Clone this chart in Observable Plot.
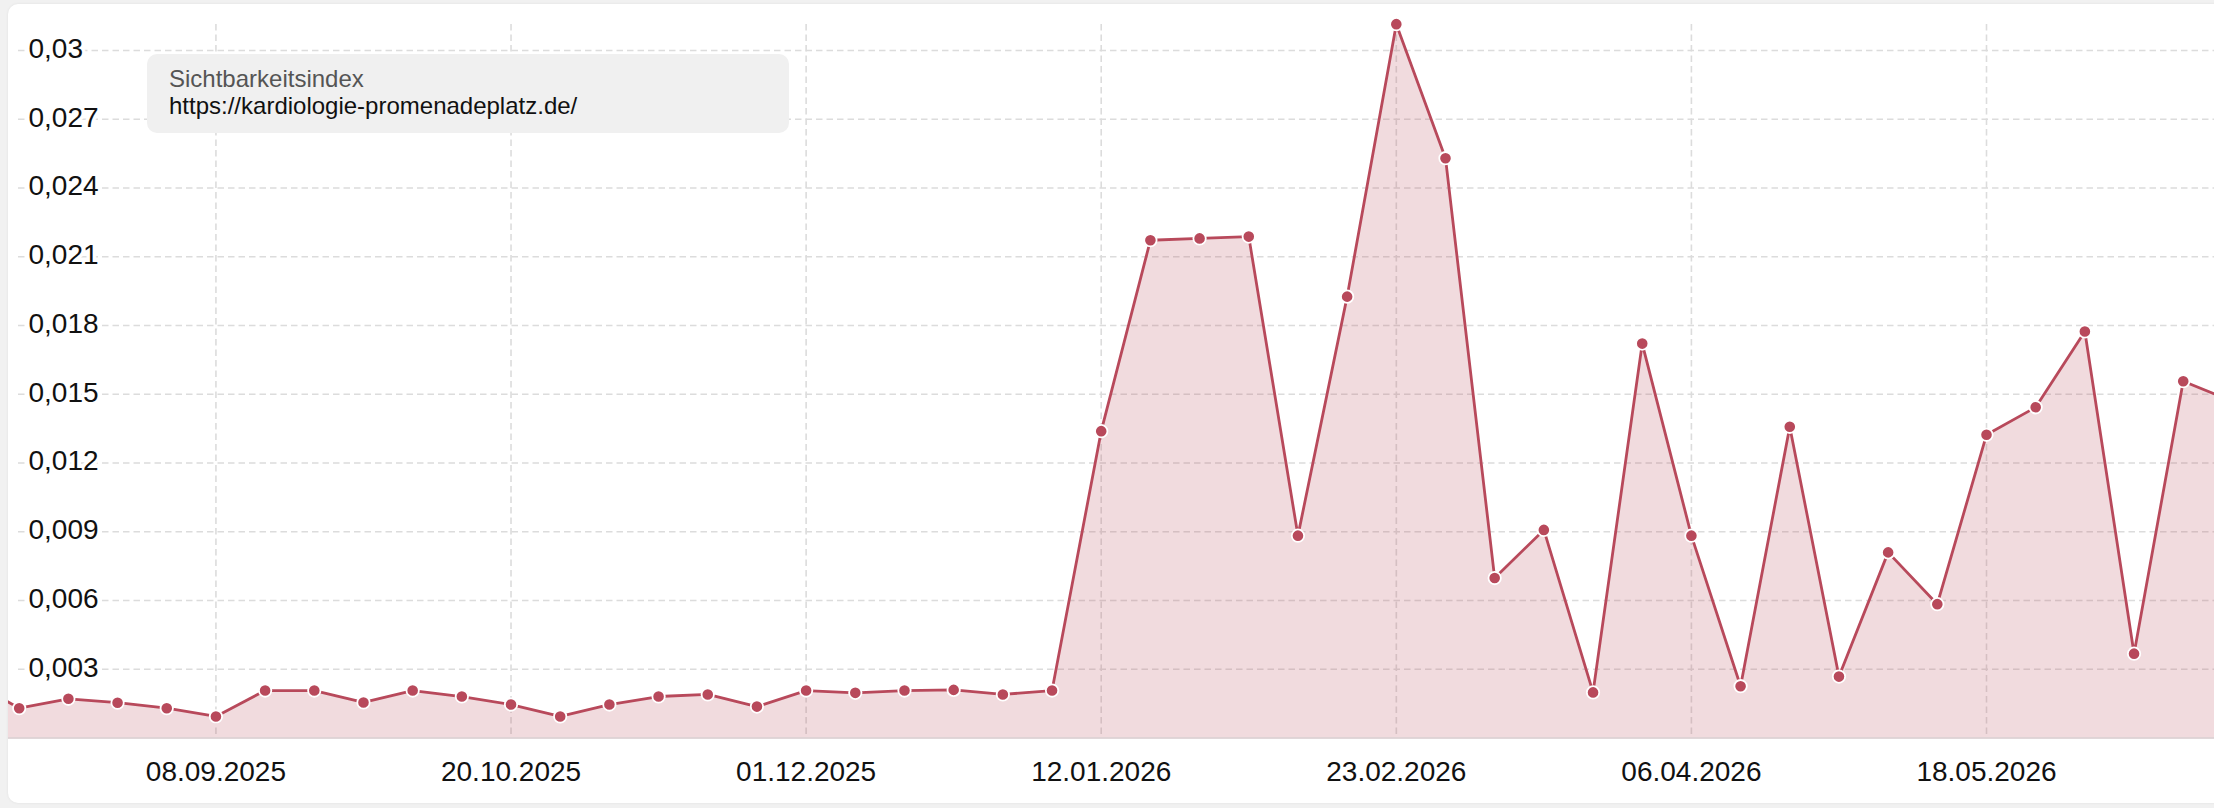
<!DOCTYPE html>
<html>
<head>
<meta charset="utf-8">
<script src="https://cdn.jsdelivr.net/npm/d3@7"></script>
<script src="https://cdn.jsdelivr.net/npm/@observablehq/plot@0.6"></script>
<style>
  html, body { margin: 0; padding: 0; background: #f1f1f1; overflow: hidden; width: 2214px; height: 808px; }
  #card { position: absolute; left: 8px; top: 4px; width: 2240px; height: 799px; background: #fff; border-radius: 10px; box-shadow: 0 0 3px rgba(0,0,0,0.07); overflow: hidden; }
  #chart { position: absolute; left: 0; top: 0; }
  #legend { position: absolute; left: 147px; top: 54px; width: 642px; height: 79px; background: #f0f0f0; border-radius: 10px; font-family: "Liberation Sans", Arial, Helvetica, sans-serif; font-size: 24px; line-height: 24px; }
  #legend .t1 { position: absolute; left: 22px; top: 12.5px; color: #555; white-space: nowrap; }
  #legend .t2 { position: absolute; left: 22px; top: 40px; color: #111; white-space: nowrap; }
</style>
</head>
<body>
<div id="card"><div id="chart"></div></div>
<div id="legend"><div class="t1"></div><div class="t2"></div></div>
<script>
// ---- data ----
const seriesName = "Sichtbarkeitsindex";
const seriesUrl = "https://kardiologie-promenadeplatz.de/";

const weeks = [
  "2025-08-04","2025-08-11","2025-08-18","2025-08-25","2025-09-01","2025-09-08","2025-09-15","2025-09-22","2025-09-29",
  "2025-10-06","2025-10-13","2025-10-20","2025-10-27","2025-11-03","2025-11-10","2025-11-17","2025-11-24",
  "2025-12-01","2025-12-08","2025-12-15","2025-12-22","2025-12-29","2026-01-05","2026-01-12","2026-01-19","2026-01-26",
  "2026-02-02","2026-02-09","2026-02-16","2026-02-23","2026-03-02","2026-03-09","2026-03-16","2026-03-23","2026-03-30",
  "2026-04-06","2026-04-13","2026-04-20","2026-04-27","2026-05-04","2026-05-11","2026-05-18","2026-05-25",
  "2026-06-01","2026-06-08","2026-06-15","2026-06-22"
];
const values = [
  0.0025, 0.00130, 0.00171, 0.00154, 0.00130, 0.00094, 0.00207, 0.00207, 0.00155,
  0.00207, 0.00181, 0.00146, 0.00094, 0.00146, 0.00181, 0.00190, 0.00137,
  0.00207, 0.00197, 0.00207, 0.00210, 0.00190, 0.00207, 0.01339, 0.02172, 0.02180,
  0.02188, 0.00883, 0.01926, 0.03115, 0.02530, 0.00698, 0.00908, 0.00199, 0.01721,
  0.00883, 0.00226, 0.01358, 0.00268, 0.00810, 0.00584, 0.01323, 0.01443,
  0.01774, 0.00368, 0.01557, 0.01470
];
const yTicks = [0.003, 0.006, 0.009, 0.012, 0.015, 0.018, 0.021, 0.024, 0.027, 0.03];
const xTicks = ["2025-09-08","2025-10-20","2025-12-01","2026-01-12","2026-02-23","2026-04-06","2026-05-18"];

// ---- build ----
const parse = d3.utcParse("%Y-%m-%d");
const data = weeks.map((w, i) => ({date: parse(w), value: values[i]}));
const xTickDates = xTicks.map(parse);
const de = d3.formatLocale({decimal: ",", thousands: ".", grouping: [3], currency: ["", " €"]});
const yFmt = de.format("~g");
const xFmt = d3.utcFormat("%d.%m.%Y");

const lineColor = "#b8495b";
const font = "'Liberation Sans', Arial, Helvetica, sans-serif";

document.querySelector("#legend .t1").textContent = seriesName;
document.querySelector("#legend .t2").textContent = seriesUrl;

const W = 2206, H = 799;
const chart = Plot.plot({
  width: W,
  height: H,
  marginLeft: 0,
  marginRight: 0,
  marginTop: 20,
  marginBottom: 65.5,
  style: {background: "transparent", overflow: "hidden", fontFamily: font},
  x: {type: "utc", domain: [parse("2025-08-11"), parse("2026-05-18")], range: [10.7, 1978], axis: null},
  y: {domain: [0, 0.03], range: [733.5, 46], axis: null},
  marks: [
    Plot.ruleY(yTicks, {y: d => d, stroke: "#dcdcdc", strokeWidth: 1.6, strokeDasharray: "6.5,4", insetLeft: 10}),
    Plot.ruleX(xTickDates, {x: d => d, stroke: "#dcdcdc", strokeWidth: 1.6, strokeDasharray: "6.5,4"}),
    Plot.areaY(data, {x: "date", y: "value", fill: lineColor, fillOpacity: 0.2}),
    Plot.ruleY([0], {stroke: "#d7cacd", strokeWidth: 1.6}),
    Plot.lineY(data, {x: "date", y: "value", stroke: lineColor, strokeWidth: 2.8}),
    Plot.dot(data, {x: "date", y: "value", r: 6.2, fill: lineColor, stroke: "white", strokeWidth: 1.8}),
    Plot.text(yTicks, {y: d => d, text: d => yFmt(d), frameAnchor: "left", dx: 20, textAnchor: "start",
      fontSize: 28, fill: "#111", stroke: "white", strokeWidth: 7, dy: -1.5}),
    Plot.text(xTickDates, {x: d => d, text: d => xFmt(d), frameAnchor: "bottom", dy: 34.5,
      lineAnchor: "middle", fontSize: 28, fill: "#111"})
  ]
});
document.getElementById("chart").appendChild(chart);
</script>
</body>
</html>
